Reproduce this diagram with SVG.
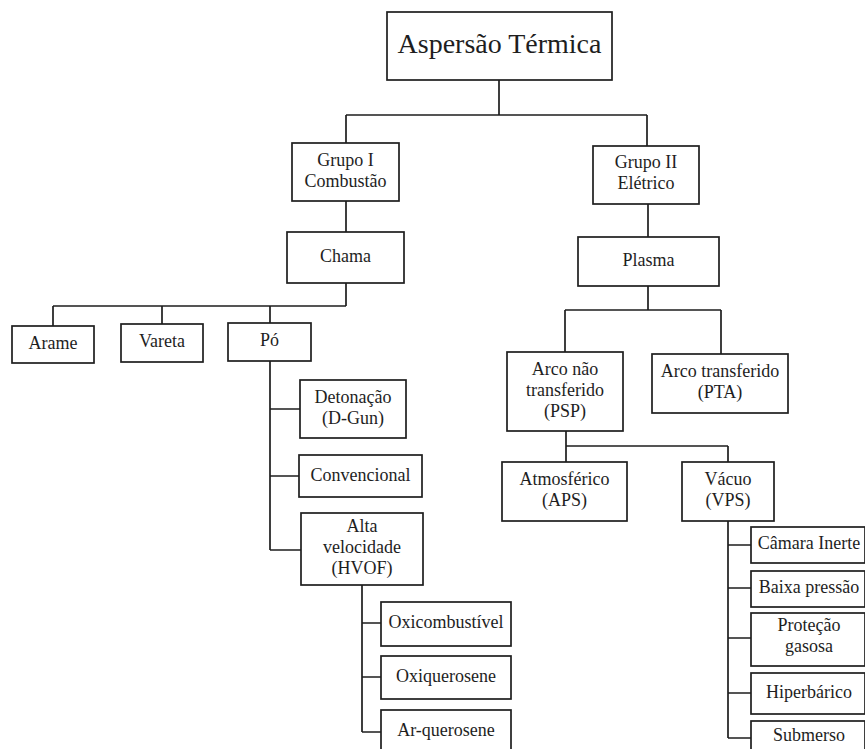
<svg xmlns="http://www.w3.org/2000/svg" width="865" height="749" viewBox="0 0 865 749">
<style>
.box{fill:#fff;stroke:#1e1e1e;stroke-width:1.7}
.t{font-family:"Liberation Serif","Times New Roman",serif;font-size:18px;fill:#1e1e1e;text-anchor:middle}
.big{font-size:28px}
.c{fill:none;stroke:#1e1e1e;stroke-width:1.7}
</style>
<rect width="865" height="749" fill="#fff"/>
<g id="connectors" class="c">
<path d="M499 80V115M346 115H647M346 115V143M647 115V146"/>
<path d="M346 201V232M346 283V306M53 306H346M53 306V326M162 306V324M270 306V323"/>
<path d="M270 361V550M270 409H300M270 476H299M270 550H301"/>
<path d="M362 585V732M362 623H381M362 677H381M362 732H381"/>
<path d="M648 204V237M648 286V310M565 310H721M565 310V352M721 310V354"/>
<path d="M566 431V446M566 446H728M566 446V462M728 446V462"/>
<path d="M728 521V738M728 545H751M728 588H751M728 638H751M728 693H751M728 738H751"/>
</g>
<g id="root"><rect class="box" x="387" y="12" width="225" height="68"/><text class="t big" x="499.5" y="53">Aspersão Térmica</text></g>
<g id="grupo1"><rect class="box" x="292" y="143" width="107" height="58"/><text class="t" x="345.5" y="166">Grupo I</text><text class="t" x="345.5" y="187">Combustão</text></g>
<g id="chama"><rect class="box" x="287" y="232" width="117" height="51"/><text class="t" x="345.5" y="262">Chama</text></g>
<g id="arame"><rect class="box" x="12" y="326" width="82" height="37"/><text class="t" x="53" y="349">Arame</text></g>
<g id="vareta"><rect class="box" x="121" y="324" width="82" height="38"/><text class="t" x="162" y="347">Vareta</text></g>
<g id="po"><rect class="box" x="228" y="323" width="83" height="38"/><text class="t" x="269.5" y="346">Pó</text></g>
<g id="detonacao"><rect class="box" x="300" y="380" width="106" height="58"/><text class="t" x="353" y="403">Detonação</text><text class="t" x="353" y="424">(D-Gun)</text></g>
<g id="convencional"><rect class="box" x="299" y="455" width="123" height="42"/><text class="t" x="360.5" y="481">Convencional</text></g>
<g id="hvof"><rect class="box" x="301" y="513" width="122" height="72"/><text class="t" x="362" y="532">Alta</text><text class="t" x="362" y="553">velocidade</text><text class="t" x="362" y="574">(HVOF)</text></g>
<g id="oxicombustivel"><rect class="box" x="381" y="602" width="130" height="44"/><text class="t" x="446" y="628">Oxicombustível</text></g>
<g id="oxiquerosene"><rect class="box" x="381" y="656" width="130" height="43"/><text class="t" x="446" y="682">Oxiquerosene</text></g>
<g id="arquerosene"><rect class="box" x="381" y="710" width="130" height="50"/><text class="t" x="446" y="736">Ar-querosene</text></g>
<g id="grupo2"><rect class="box" x="593" y="146" width="106" height="58"/><text class="t" x="646" y="168">Grupo II</text><text class="t" x="646" y="189">Elétrico</text></g>
<g id="plasma"><rect class="box" x="578" y="237" width="141" height="49"/><text class="t" x="648.5" y="266">Plasma</text></g>
<g id="psp"><rect class="box" x="507" y="352" width="116" height="79"/><text class="t" x="565" y="375">Arco não</text><text class="t" x="565" y="396">transferido</text><text class="t" x="565" y="417">(PSP)</text></g>
<g id="pta"><rect class="box" x="652" y="354" width="136" height="59"/><text class="t" x="720" y="377">Arco transferido</text><text class="t" x="720" y="398">(PTA)</text></g>
<g id="aps"><rect class="box" x="502" y="462" width="125" height="59"/><text class="t" x="564.5" y="485">Atmosférico</text><text class="t" x="564.5" y="506">(APS)</text></g>
<g id="vps"><rect class="box" x="682" y="462" width="92" height="59"/><text class="t" x="728" y="485">Vácuo</text><text class="t" x="728" y="506">(VPS)</text></g>
<g id="camara"><rect class="box" x="751" y="527" width="114" height="36"/><text class="t" x="809" y="549">Câmara Inerte</text></g>
<g id="baixa"><rect class="box" x="751" y="571" width="114" height="36"/><text class="t" x="809" y="593">Baixa pressão</text></g>
<g id="protecao"><rect class="box" x="751" y="613" width="114" height="53"/><text class="t" x="809" y="631">Proteção</text><text class="t" x="809" y="652">gasosa</text></g>
<g id="hiperbarico"><rect class="box" x="751" y="673" width="114" height="41"/><text class="t" x="809" y="698">Hiperbárico</text></g>
<g id="submerso"><rect class="box" x="751" y="721" width="114" height="40"/><text class="t" x="809" y="741">Submerso</text></g>
</svg>
